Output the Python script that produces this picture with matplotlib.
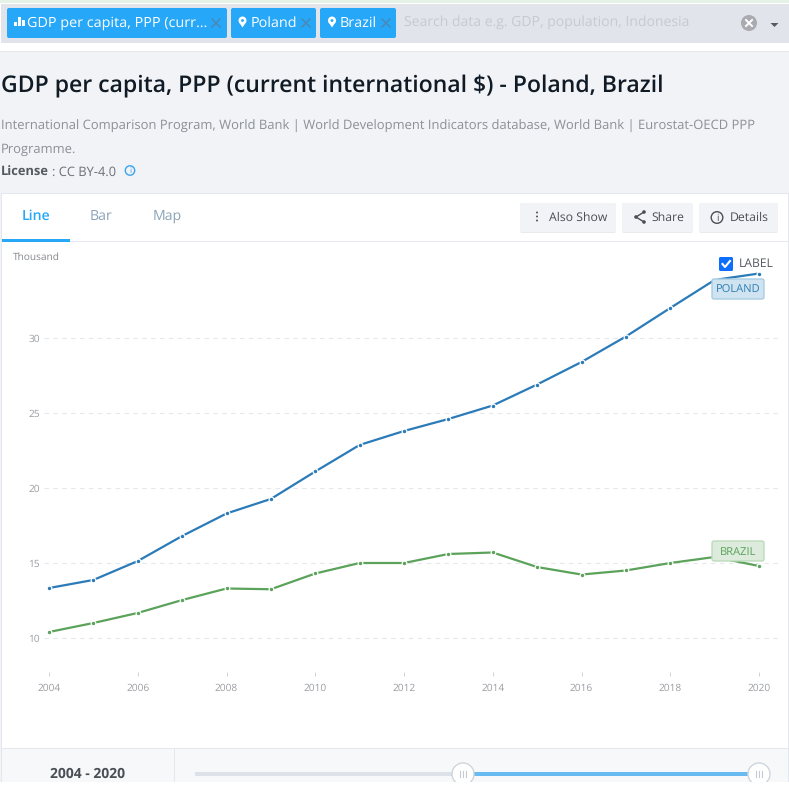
import matplotlib
matplotlib.use("Agg")
import matplotlib.pyplot as plt
from matplotlib.patches import Rectangle, FancyBboxPatch, Circle, Polygon

plt.rcParams["font.family"] = ["Open Sans", "DejaVu Sans"]
plt.rcParams["text.hinting"] = "no_hinting"

W, H = 789, 791

years = list(range(2004, 2021))
poland = [13.33, 13.87, 15.13, 16.8, 18.3, 19.27, 21.1, 22.87, 23.8, 24.6, 25.5, 26.9, 28.4, 30.1, 32.0, 33.87, 34.3]
brazil = [10.4, 11.0, 11.67, 12.53, 13.3, 13.25, 14.3, 15.0, 15.0, 15.6, 15.7, 14.73, 14.23, 14.5, 15.0, 15.4, 14.8]
y_ticks = [10, 15, 20, 25, 30]
x_ticks = list(range(2004, 2021, 2))

fig = plt.figure(figsize=(W / 100, H / 100), dpi=100, facecolor="white")

# page furniture, drawn in pixel coords
bg = fig.add_axes([0, 0, 1, 1])
bg.set_xlim(0, W)
bg.set_ylim(H, 0)
bg.axis("off")


def rect(x0, y0, x1, y1, color, z=1):
    bg.add_patch(Rectangle((x0, y0), x1 - x0, y1 - y0, fc=color, ec="none", zorder=z))


def rbox(x0, y0, x1, y1, fc, ec="none", r=2, z=2, lw=1):
    bg.add_patch(FancyBboxPatch((x0 + r, y0 + r), x1 - x0 - 2 * r, y1 - y0 - 2 * r,
                                boxstyle="round,pad=%g,rounding_size=%g" % (r, r),
                                fc=fc, ec=ec, lw=lw, zorder=z))


def pin(cx, cy):
    bg.add_patch(Circle((cx, cy - 1.5), 4, fc="white", ec="none", zorder=4))
    bg.add_patch(Polygon([(cx - 3.6, cy), (cx + 3.6, cy), (cx, cy + 5.5)], fc="white", ec="none", zorder=4))
    bg.add_patch(Circle((cx, cy - 1.5), 1.4, fc="#26a7f8", ec="none", zorder=5))


rect(0, 0, W, 3, "#e6f1e8")
rect(0, 3, W, 4, "#ffffff")
rect(1, 4, W, 43, "#e1e4ea")
rect(0, 43, W, 51, "#ffffff")
rect(0, 51, W, 52, "#e4e7ec")
rect(0, 52, W, 782, "#f1f3f7")

# filter chips
chip = "#26a7f8"
rbox(7, 8, 227, 38, chip)
rbox(231, 8, 316, 38, chip)
rbox(320, 8, 396, 38, chip)
for x0, h in [(14, 4), (18, 9), (22, 6)]:
    rect(x0, 26 - h, x0 + 3, 26, "white", 4)
bg.text(27, 23, "GDP per capita, PPP (curr...", color="white", fontsize=10.4, va="center", zorder=4)
pin(242.5, 22)
bg.text(251, 23, "Poland", color="white", fontsize=10.4, va="center", zorder=4)
pin(332, 22)
bg.text(340, 23, "Brazil", color="white", fontsize=10.4, va="center", zorder=4)
for cx in [216, 306, 386]:
    bg.plot([cx - 4, cx + 4], [19, 27], color="#4d86b0", lw=1, zorder=4)
    bg.plot([cx - 4, cx + 4], [27, 19], color="#4d86b0", lw=1, zorder=4)
bg.text(404, 23, "Search data e.g. GDP, population, Indonesia", color="#c6cad1", fontsize=10.05, va="center", zorder=4)
bg.add_patch(Circle((749, 23), 8, fc="#a9abb0", ec="none", zorder=4))
bg.plot([746, 752], [20, 26], color="white", lw=1.4, zorder=5)
bg.plot([746, 752], [26, 20], color="white", lw=1.4, zorder=5)
bg.add_patch(Polygon([(770.5, 23), (778.5, 23), (774.5, 27)], fc="#555a60", ec="none", zorder=4))

# heading
bg.text(1, 86, "GDP per capita, PPP (current international $) - Poland, Brazil", color="#111b25",
        fontsize=16.6, fontweight="semibold", va="center", zorder=4)
bg.text(1, 126.5, "International Comparison Program, World Bank | World Development Indicators database, World Bank | Eurostat-OECD PPP",
        color="#8b8f96", fontsize=9.36, va="center", zorder=4)
bg.text(1, 149.5, "Programme.", color="#8b8f96", fontsize=9.36, va="center", zorder=4)
bg.text(1, 172, "License", color="#555a60", fontsize=9.3, fontweight="bold", va="center", zorder=4)
bg.text(52, 172, ": CC BY-4.0", color="#6b6f76", fontsize=9.3, va="center", zorder=4)
bg.add_patch(Circle((130, 170.5), 4.7, fc="none", ec="#3ba3ee", lw=1, zorder=4))
bg.text(130, 170.5, "i", color="#3ba3ee", fontsize=6, ha="center", va="center", zorder=5)

# chart card
rect(1, 193, 789, 783, "#e4e8ee", 1)
rect(2, 194, 788, 748, "#ffffff", 2)
rect(2, 241, 788, 242, "#e6e9ee", 3)
rect(2, 239, 70, 241.5, chip, 4)
bg.text(36, 216.5, "Line", color=chip, fontsize=10.2, fontweight="semibold", ha="center", va="center", zorder=4)
bg.text(101, 216.5, "Bar", color="#8ba3b8", fontsize=10.2, ha="center", va="center", zorder=4)
bg.text(167, 216.5, "Map", color="#8ba3b8", fontsize=10.2, ha="center", va="center", zorder=4)

# buttons
for x0, x1 in [(520, 616), (622, 693), (699, 778)]:
    rbox(x0, 203, x1, 233, "#e8eaee", z=3)
    rbox(x0, 203, x1, 232, "#f1f3f7", z=3)
for yy in [212.5, 216.5, 220.5]:
    bg.add_patch(Circle((537, yy), 1, fc="#555a60", ec="none", zorder=4))
bg.text(549, 218, "Also Show", color="#4a4f55", fontsize=8.8, va="center", zorder=4)
bg.plot([644, 636, 644], [212, 217, 222], color="#4a4f55", lw=1, zorder=4)
for px, py in [(644, 212), (636, 217), (644, 222)]:
    bg.add_patch(Circle((px, py), 1.8, fc="#4a4f55", ec="none", zorder=5))
bg.text(651, 218, "Share", color="#4a4f55", fontsize=8.8, va="center", zorder=4)
bg.add_patch(Circle((717, 217.5), 5.8, fc="none", ec="#4a4f55", lw=1, zorder=4))
bg.text(717, 218, "i", color="#4a4f55", fontsize=7, ha="center", va="center", zorder=5)
bg.text(730, 218, "Details", color="#4a4f55", fontsize=8.8, va="center", zorder=4)

# slider panel
rect(2, 749, 788, 782, "#f6f8fa", 3)
rect(174, 749, 175, 782, "#e4e8ee", 4)
bg.text(87.5, 774, "2004 - 2020", color="#4a4f55", fontsize=10, fontweight="bold", ha="center", va="center", zorder=4)
rect(195, 772, 463, 776, "#dde1e8", 4)
rect(463, 772, 759, 776, "#68bbf0", 4)
for cx in [463, 759]:
    bg.add_patch(Circle((cx, 774), 11, fc="white", ec="#cfd5dd", lw=1, zorder=5))
    for dx in [-3, 0, 3]:
        bg.plot([cx + dx, cx + dx], [771, 777], color="#c5cad2", lw=0.8, zorder=6)
rect(0, 782, W, H, "#ffffff", 7)

# the chart itself
ax = fig.add_axes([44 / W, 1 - 672 / H, (778 - 44) / W, (672 - 250) / H], facecolor="none")
ax.set_xlim(2003.887, 2020.428)
ax.set_ylim(7.733, 35.867)
for s in ax.spines.values():
    s.set_visible(False)
ax.set_yticks(y_ticks)
ax.set_xticks(x_ticks)
ax.grid(axis="y", color="#e6e8eb", lw=0.8, ls=(0, (4, 4)))
ax.set_axisbelow(True)
ax.tick_params(axis="y", length=0, labelsize=7.3, labelcolor="#9a9da2", pad=3)
ax.tick_params(axis="x", length=3, width=0.7, color="#cfd2d6", labelsize=7.3, labelcolor="#9a9da2", pad=5)
ax.plot(years, poland, color="#2b7bb9", lw=1.6, marker="o", ms=3.4, mec="white", mew=0.9, clip_on=False)
ax.plot(years, brazil, color="#5ba25b", lw=1.6, marker="o", ms=3.4, mec="white", mew=0.9, clip_on=False)

ax_top = fig.add_axes([0, 0, 1, 1], facecolor="none")
ax_top.set_xlim(0, W)
ax_top.set_ylim(H, 0)
ax_top.axis("off")

ax_top.text(13, 257, "Thousand", color="#85888d", fontsize=7.3, va="center")
ax_top.add_patch(FancyBboxPatch((720.5, 258.5), 11, 11, boxstyle="round,pad=1.5,rounding_size=1.5", fc="#0d6efd", ec="none"))
ax_top.plot([722.5, 725, 730], [264, 267, 261], color="white", lw=1.5)
ax_top.text(739, 264, "LABEL", color="#555a60", fontsize=8.7, va="center")

ax_top.add_patch(FancyBboxPatch((714, 281), 48, 16, boxstyle="round,pad=2,rounding_size=2", fc="#cfe3f0", ec="#a9cde3", lw=1))
ax_top.text(738, 290, "POLAND", color="#2f7fb5", fontsize=8, ha="center", va="center")
ax_top.add_patch(FancyBboxPatch((714, 543), 48, 16, boxstyle="round,pad=2,rounding_size=2", fc="#dcebdc", ec="#bcdcbc", lw=1))
ax_top.text(738, 552, "BRAZIL", color="#5ba25b", fontsize=8, ha="center", va="center")

fig.savefig("out.png", dpi=100)
